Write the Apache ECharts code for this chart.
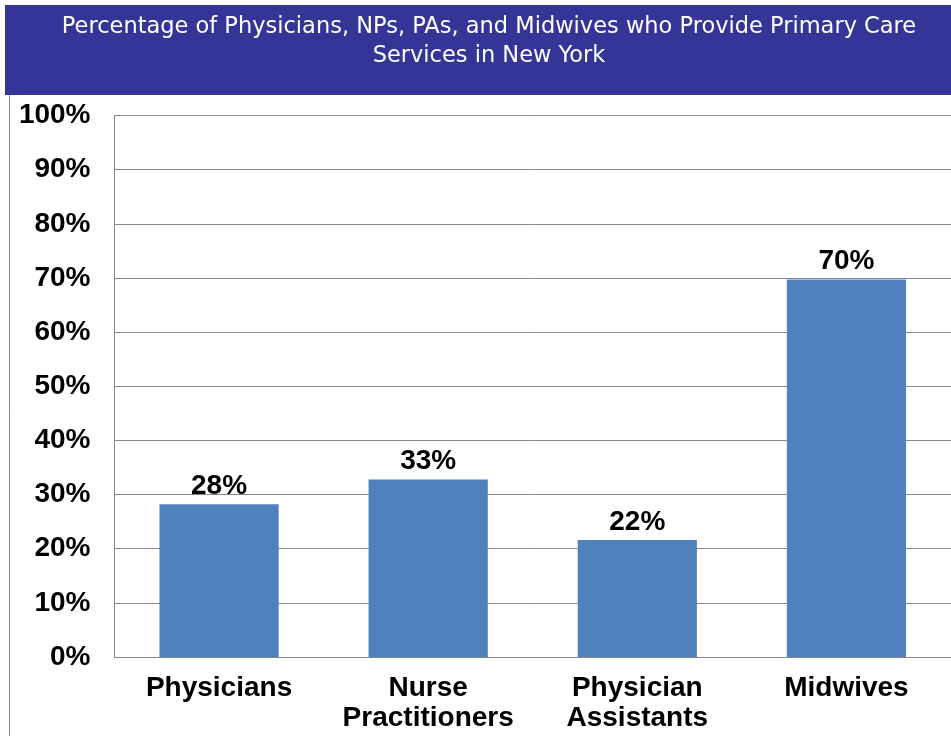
<!DOCTYPE html>
<html><head><meta charset="utf-8">
<script src="https://cdn.jsdelivr.net/npm/echarts@6/dist/echarts.min.js"></script>
<style>html,body{margin:0;padding:0;background:#fff}#c{width:951px;height:736px}</style>
</head><body><div id="c"></div>
<script>
var titleText = 'Percentage of Physicians, NPs, PAs, and Midwives who Provide Primary Care\nServices in New York';
var categories = ['Physicians', 'Nurse\nPractitioners', 'Physician\nAssistants', 'Midwives'];
var values = [28.2, 32.8, 21.6, 69.7];
var yTicks = [0, 10, 20, 30, 40, 50, 60, 70, 80, 90, 100];

var F = '"Liberation Sans", Arial, sans-serif';
var chart = echarts.init(document.getElementById('c'));
chart.setOption({
  animation: false,
  graphic: [
    {type: 'rect', shape: {x: 5, y: 5, width: 950, height: 90}, style: {fill: '#343597'}, z: 0},
    {type: 'line', shape: {x1: 9.5, y1: 95, x2: 9.5, y2: 736}, style: {stroke: '#888', lineWidth: 1}},
    {type: 'text', x: 489, y: 42, style: {text: titleText, fill: '#fff', font: '22.5px "DejaVu Sans", sans-serif', align: 'center', verticalAlign: 'middle', lineHeight: 29}, z: 10}
  ],
  grid: {left: 114.5, right: -3, top: 115.5, bottom: 79, containLabel: false},
  xAxis: {
    type: 'category', data: categories,
    axisLine: {show: true, lineStyle: {color: '#888', width: 1}},
    axisTick: {show: false},
    axisLabel: {color: '#000', fontWeight: 'bold', fontSize: 28, fontFamily: F, lineHeight: 30, margin: 16, interval: 0}
  },
  yAxis: {
    type: 'value', min: 0, max: 100, interval: 10,
    axisLine: {show: true, lineStyle: {color: '#888', width: 1}},
    axisTick: {show: false},
    splitLine: {show: true, lineStyle: {color: '#888', width: 1}},
    axisLabel: {color: '#000', fontWeight: 'bold', fontSize: 28, fontFamily: F, margin: 24, padding: [4, 0, 0, 0],
      formatter: function (v) { return yTicks.indexOf(v) >= 0 ? v + '%' : ''; }}
  },
  series: [{
    type: 'bar', data: values, barWidth: '57%',
    itemStyle: {color: '#4F81BD'},
    label: {show: true, position: 'top', distance: 4, color: '#000', fontWeight: 'bold', fontSize: 28, fontFamily: F,
      formatter: function (p) { return Math.round(p.value) + '%'; }}
  }]
});
</script></body></html>
